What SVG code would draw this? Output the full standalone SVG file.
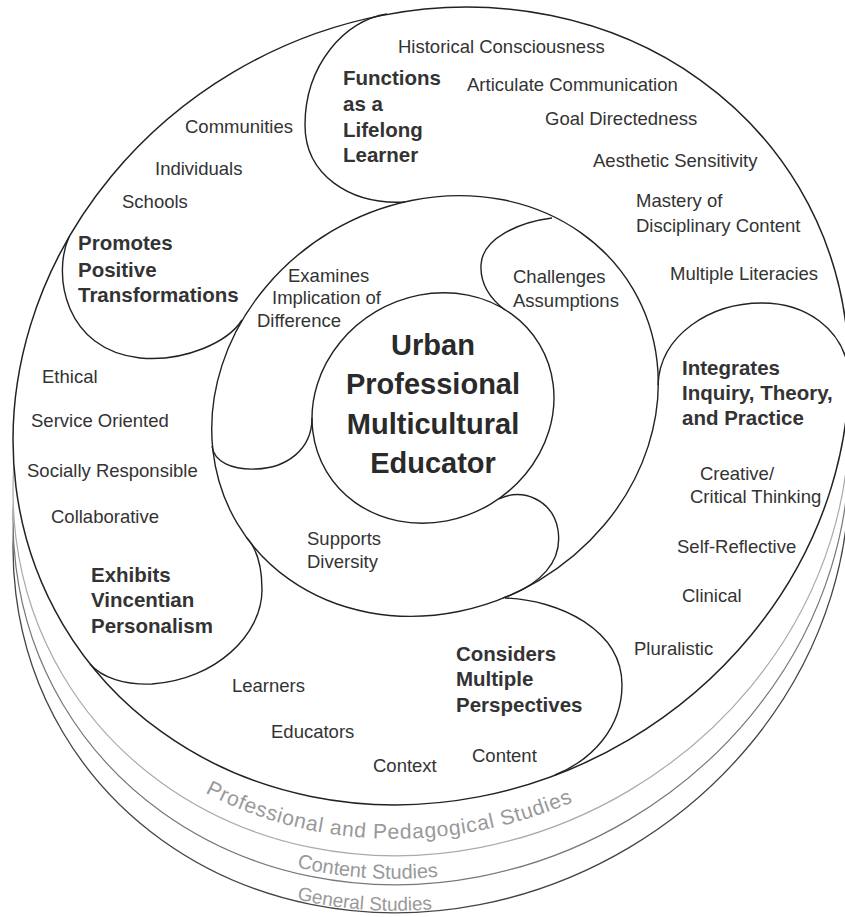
<svg xmlns="http://www.w3.org/2000/svg" width="845" height="917" viewBox="0 0 845 917">
<style>
.ln{fill:none;stroke:#222;stroke-width:1.4}
.t{font-family:"Liberation Sans",Arial,sans-serif;font-size:18.5px;fill:#333}
.b{font-family:"Liberation Sans",Arial,sans-serif;font-size:20.5px;font-weight:bold;fill:#333}
.c{font-family:"Liberation Sans",Arial,sans-serif;font-size:29px;font-weight:bold;fill:#2a2a2a;text-anchor:middle}
.lay{font-family:"Liberation Sans",Arial,sans-serif;fill:#999}
</style>
<defs>
<ellipse id="disc" cx="431" cy="406" rx="428" ry="388" transform="rotate(-30.7 431 406)"/>
<path id="pp" d="M205.1,792.8 A428 388 -30.7 0 0 840.2,487"/>
<path id="cs" d="M296.9,867.3 A428 388 -30.7 0 0 840.2,527.1"/>
<path id="gs" d="M296.9,899.3 A428 388 -30.7 0 0 840.2,559.1"/>
</defs>
<g id="layers">
<use href="#disc" transform="translate(0,108)" fill="#fff" stroke="#444" stroke-width="1.3"/>
<use href="#disc" transform="translate(0,80)" fill="#fff" stroke="#777" stroke-width="1.2"/>
<use href="#disc" transform="translate(0,51)" fill="#fff" stroke="#aaa" stroke-width="1.2"/>
<text class="lay" font-size="21" letter-spacing="0.75"><textPath href="#pp">Professional and Pedagogical Studies</textPath></text>
<text class="lay" font-size="20" fill="#888"><textPath href="#cs">Content Studies</textPath></text>
<text class="lay" font-size="19" fill="#888"><textPath href="#gs">General Studies</textPath></text>
</g>
<g id="outlines">
<use href="#disc" fill="#fff" stroke="#222" stroke-width="1.5"/>
<ellipse class="ln" cx="435" cy="406" rx="230" ry="203" transform="rotate(-30.7 435 406)"/>
<ellipse class="ln" cx="433" cy="408" rx="124" ry="112" transform="rotate(-30.7 433 408)"/>
<path class="ln" d="M387,14 C345,20 305,65 305,125 C305,175 350,205 405,202"/>
<path class="ln" d="M849,372 C843,328 805,303 762,303 C710,303 660,335 658,385"/>
<path class="ln" d="M505,598 C560,600 622,630 622,685 C622,728 592,760 555,775"/>
<path class="ln" d="M90,664 C102,678 125,685 152,684 C215,680 262,635 262,590 C262,565 256,548 247,538"/>
<path class="ln" d="M69,237 C52,275 65,350 140,358 C185,362 228,342 242,320"/>
<path class="ln" d="M212,446 C214,462 232,470 256,469 C286,468 312,450 312,418"/>
<path class="ln" d="M552,218 C520,222 482,238 481,265 C480,285 492,300 505,310"/>
<path class="ln" d="M499,499 C522,487 553,500 558,530 C563,562 540,585 503,598"/>
</g>
<g id="center">
<text class="c" x="433" y="355">Urban</text>
<text class="c" x="433" y="394">Professional</text>
<text class="c" x="433" y="434">Multicultural</text>
<text class="c" x="433" y="473">Educator</text>
</g>
<g id="lifelong-learner">
<text class="b" x="343" y="85">Functions</text>
<text class="b" x="343" y="111">as a</text>
<text class="b" x="343" y="137">Lifelong</text>
<text class="b" x="343" y="162">Learner</text>
<text class="t" x="398" y="53">Historical Consciousness</text>
<text class="t" x="467" y="91">Articulate Communication</text>
<text class="t" x="545" y="125">Goal Directedness</text>
<text class="t" x="593" y="167">Aesthetic Sensitivity</text>
<text class="t" x="636" y="207">Mastery of</text>
<text class="t" x="636" y="232">Disciplinary Content</text>
<text class="t" x="670" y="280">Multiple Literacies</text>
</g>
<g id="integrates">
<text class="b" x="682" y="375">Integrates</text>
<text class="b" x="682" y="400">Inquiry, Theory,</text>
<text class="b" x="682" y="425">and Practice</text>
<text class="t" x="700" y="480">Creative/</text>
<text class="t" x="690" y="503">Critical Thinking</text>
<text class="t" x="677" y="553">Self-Reflective</text>
<text class="t" x="682" y="602">Clinical</text>
<text class="t" x="634" y="655">Pluralistic</text>
</g>
<g id="perspectives">
<text class="b" x="456" y="661">Considers</text>
<text class="b" x="456" y="686">Multiple</text>
<text class="b" x="456" y="712">Perspectives</text>
<text class="t" x="232" y="692">Learners</text>
<text class="t" x="271" y="738">Educators</text>
<text class="t" x="373" y="772">Context</text>
<text class="t" x="472" y="762">Content</text>
</g>
<g id="vincentian">
<text class="b" x="91" y="582">Exhibits</text>
<text class="b" x="91" y="607">Vincentian</text>
<text class="b" x="91" y="633">Personalism</text>
<text class="t" x="42" y="383">Ethical</text>
<text class="t" x="31" y="427">Service Oriented</text>
<text class="t" x="27" y="477">Socially Responsible</text>
<text class="t" x="51" y="523">Collaborative</text>
</g>
<g id="transformations">
<text class="b" x="78" y="250">Promotes</text>
<text class="b" x="78" y="277">Positive</text>
<text class="b" x="78" y="302">Transformations</text>
<text class="t" x="185" y="133">Communities</text>
<text class="t" x="155" y="175">Individuals</text>
<text class="t" x="122" y="208">Schools</text>
</g>
<g id="examines">
<text class="t" x="288" y="282">Examines</text>
<text class="t" x="272" y="304">Implication of</text>
<text class="t" x="257" y="327">Difference</text>
</g>
<g id="challenges">
<text class="t" x="513" y="283">Challenges</text>
<text class="t" x="513" y="307">Assumptions</text>
</g>
<g id="diversity">
<text class="t" x="307" y="545">Supports</text>
<text class="t" x="307" y="568">Diversity</text>
</g>
</svg>
